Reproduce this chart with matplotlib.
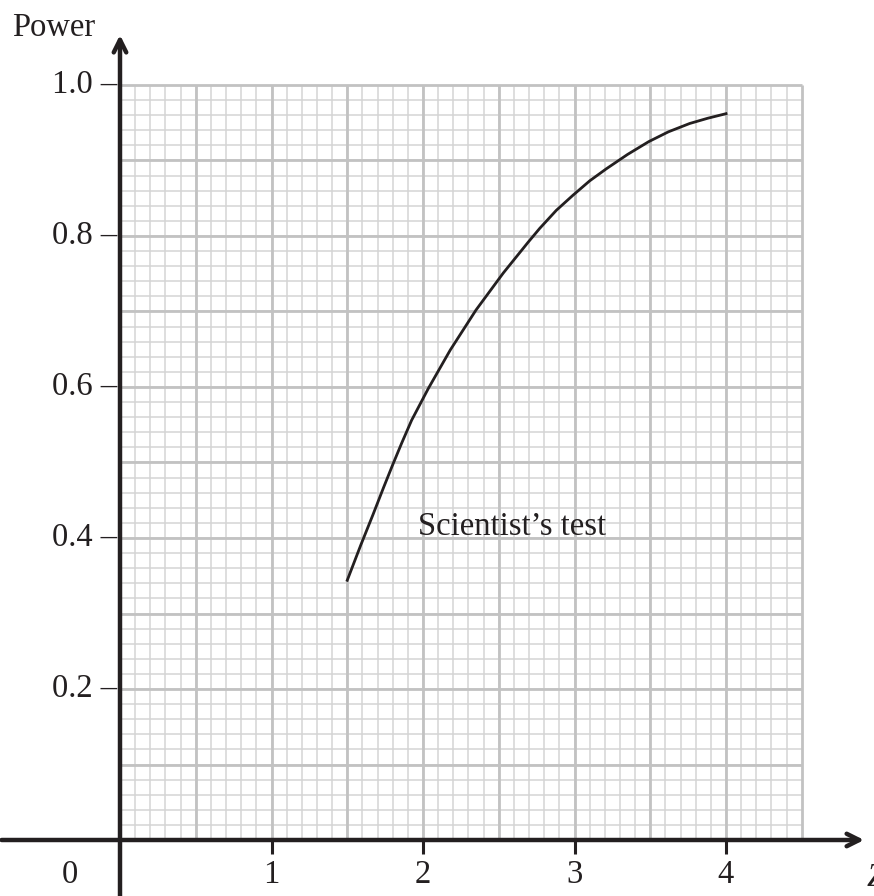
import numpy as np
import matplotlib
matplotlib.use("Agg")
import matplotlib.pyplot as plt

# curve
z_vals = [1.5, 1.59, 1.67, 1.74, 1.80, 1.86, 1.925, 2.035, 2.18, 2.35, 2.53, 2.695, 2.77,
          2.88, 2.99, 3.10, 3.21, 3.35, 3.49, 3.62, 3.76, 3.88, 4.0]
power_vals = [0.344, 0.391, 0.431, 0.467, 0.497, 0.526, 0.556, 0.598, 0.649, 0.702, 0.751, 0.792, 0.810,
              0.834, 0.854, 0.873, 0.889, 0.908, 0.925, 0.938, 0.949, 0.956, 0.962]

x_ticks = [1, 2, 3, 4]
y_ticks = [0.2, 0.4, 0.6, 0.8, 1.0]
y_tick_labels = ["0.2 –", "0.4 –", "0.6 –", "0.8 –", "1.0 –"]

plt.rcParams['font.family'] = ['Liberation Serif', 'DejaVu Serif']
fs = 23.5
ink = '#231f20'

fig = plt.figure(figsize=(8.74, 8.96), dpi=100)
ax = fig.add_axes([0, 0, 1, 1])
# pixel mapping: x=0 at px 120, 151.5 px per unit; y=0 at px 840 from top, 755 px per unit
ax.set_xlim(-120 / 151.5, (874 - 120) / 151.5)
ax.set_ylim(-(896 - 840) / 755, 840 / 755)
ax.axis('off')

# graph paper
x_max, y_max = 4.5, 1.0
minor_x = np.arange(0.1, x_max, 0.1)
minor_y = np.arange(0.02, y_max, 0.02)
ax.vlines(minor_x, 0, y_max, color='#d4d4d4', lw=1.1, zorder=1)
ax.hlines(minor_y, 0, x_max, color='#d4d4d4', lw=1.1, zorder=1)
major_x = np.arange(0.5, x_max + 0.01, 0.5)
major_y = np.arange(0.1, y_max + 0.001, 0.1)
ax.vlines(major_x, 0, y_max, color='#c2c2c2', lw=2.0, zorder=2)
ax.hlines(major_y, 0, x_max, color='#c2c2c2', lw=2.0, zorder=2)

# axes with open arrow heads
head = '->,head_length=0.9,head_width=0.45'
ax.annotate('', xy=(4.93, 0), xytext=(-0.8, 0),
            arrowprops=dict(arrowstyle=head, lw=3.2, color=ink), zorder=5)
ax.annotate('', xy=(0, 1.07), xytext=(0, -0.08),
            arrowprops=dict(arrowstyle=head, lw=3.2, color=ink), zorder=5)

# x ticks
for xt in x_ticks:
    ax.plot([xt, xt], [0, -0.019], color=ink, lw=2.2, zorder=5, solid_capstyle='butt')
    ax.text(xt, -0.046, str(xt), ha='center', va='center', fontsize=fs, color=ink)
ax.text(-0.33, -0.046, "0", ha='center', va='center', fontsize=fs, color=ink)

# y ticks
for yt, lab in zip(y_ticks, y_tick_labels):
    ax.text(-0.02, yt, lab, ha='right', va='center', fontsize=fs, color=ink)

ax.text(-0.165, 1.076, "Power", ha='right', va='center', fontsize=fs, color=ink)
ax.text(4.93, -0.05, "Z", ha='left', va='center', fontsize=fs, style='italic', color=ink)

# power curve
ax.plot(z_vals, power_vals, color=ink, lw=2.0, zorder=4, solid_joinstyle='round')
ax.text(1.967, 0.4146, "Scientist\u2019s test", ha='left', va='center', fontsize=fs, color=ink, zorder=6)

fig.savefig("out.png", dpi=100)
